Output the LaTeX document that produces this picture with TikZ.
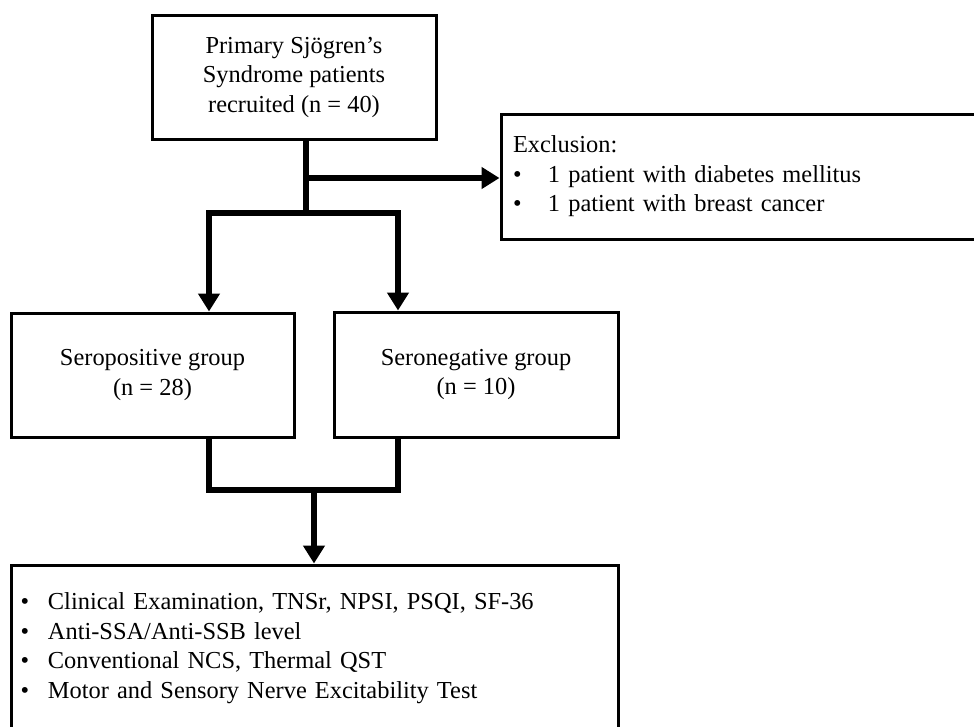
\documentclass[tikz,border=0pt]{standalone}
\usepackage{fontspec}
\setmainfont{Liberation Serif}
\usetikzlibrary{arrows.meta}
\begin{document}
\begin{tikzpicture}[x=1pt,y=-1pt,
  box/.style={draw,line width=3pt,rectangle,inner sep=0pt,font=\fontsize{24.4}{29.5}\selectfont},
  conn/.style={line width=6.5pt},
  arr/.style={conn,-{Triangle[width=21pt,length=18pt]}}]
\useasboundingbox (0,0) rectangle (974,726);
\clip (0,0) rectangle (974,726);
\fill[white] (0,0) rectangle (974,726);

\node[box,minimum width=284pt,minimum height=124pt,align=center] (top) at (294,77)
  {Primary Sjögren’s\\Syndrome patients\\recruited (n = 40)};
\node[box,minimum width=479pt,minimum height=125pt,text width=455pt,align=left,inner xsep=12pt] (excl) at (740.5,176.5)
  {Exclusion:\\\makebox[35pt][l]{•}1 patient with diabetes mellitus\\\makebox[35pt][l]{•}1 patient with breast cancer};
\node[box,minimum width=283pt,minimum height=124pt,align=center] (pos) at (152.5,375)
  {Seropositive group\\(n = 28)};
\node[box,minimum width=284pt,minimum height=125pt,align=center] (neg) at (476,374.5)
  {Seronegative group\\(n = 10)};
\node[box,minimum width=607pt,minimum height=166pt,text width=594pt,align=left,inner xsep=6.5pt] (res) at (314.5,648)
  {\hspace*{3pt}\makebox[27.5pt][l]{•}Clinical Examination, TNSr, NPSI, PSQI, SF-36\\
   \hspace*{3pt}\makebox[27.5pt][l]{•}Anti-SSA/Anti-SSB level\\
   \hspace*{3pt}\makebox[27.5pt][l]{•}Conventional NCS, Thermal QST\\
   \hspace*{3pt}\makebox[27.5pt][l]{•}Motor and Sensory Nerve Excitability Test};

\coordinate (j1) at (306,213);
\coordinate (j2) at (306,178);
\coordinate (bl) at (209,213);
\coordinate (br) at (398,213);
\coordinate (cl) at (209,490);
\coordinate (cr) at (398,490);
\coordinate (m) at (314,490);

\draw[conn] (top.south -| j1) -- (j1);
\draw[arr] (j2) -- (excl.west |- j2);
\draw[arr] (j1) -- (bl) -- (pos.north -| bl);
\draw[arr] (j1) -- (br) -- (neg.north -| br);
\draw[conn] (pos.south -| cl) -- (cl) -- (cr) -- (neg.south -| cr);
\draw[arr] (m) -- (res.north -| m);
\end{tikzpicture}
\end{document}
